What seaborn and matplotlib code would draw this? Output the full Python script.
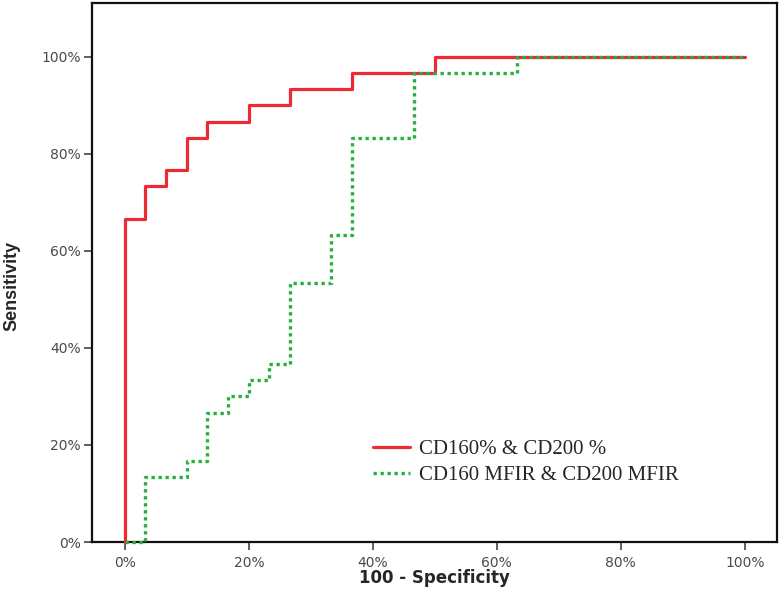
import numpy as np
import pandas as pd
import matplotlib
matplotlib.use("Agg")
import matplotlib.pyplot as plt
import seaborn as sns
from matplotlib.ticker import PercentFormatter

# ROC curves (steps of 1/30)
red_label = "CD160% & CD200 %"
red_fpr = [0, 0, 3.33, 6.67, 10, 13.33, 20, 26.67, 36.67, 50, 100]
red_tpr = [0, 66.67, 73.33, 76.67, 83.33, 86.67, 90, 93.33, 96.67, 100, 100]

green_label = "CD160 MFIR & CD200 MFIR"
green_fpr = [0, 3.33, 10, 13.33, 16.67, 20, 23.33, 26.67, 33.33, 36.67, 46.67, 63.33, 100]
green_tpr = [0, 13.33, 16.67, 26.67, 30, 33.33, 36.67, 53.33, 63.33, 83.33, 96.67, 100, 100]

tick_vals = [0, 20, 40, 60, 80, 100]

df_red = pd.DataFrame({"fpr": red_fpr, "tpr": red_tpr})
df_green = pd.DataFrame({"fpr": green_fpr, "tpr": green_tpr})

sns.set_style("white")
fig = plt.figure(figsize=(7.83, 5.97), dpi=100)
ax = fig.add_axes([92 / 783, 55 / 597, 685 / 783, 539 / 597])

sns.lineplot(data=df_red, x="fpr", y="tpr", ax=ax, sort=False, estimator=None,
             drawstyle="steps-post", color="#ec2a33", linewidth=2.3,
             label=red_label, clip_on=False, zorder=3)
sns.lineplot(data=df_green, x="fpr", y="tpr", ax=ax, sort=False, estimator=None,
             drawstyle="steps-post", color="#25b040", linewidth=2.4,
             linestyle=(0, (1, 1.1)), label=green_label, clip_on=False, zorder=4)

ax.set_xlim(-5.3, 105.2)
ax.set_ylim(0, 111.1)
ax.set_xticks(tick_vals)
ax.set_yticks(tick_vals)
ax.xaxis.set_major_formatter(PercentFormatter(xmax=100, decimals=0))
ax.yaxis.set_major_formatter(PercentFormatter(xmax=100, decimals=0))

for s in ax.spines.values():
    s.set_visible(True)
    s.set_color("#111111")
    s.set_linewidth(1.6)

ax.tick_params(axis="both", direction="out", length=6, width=1.2, color="#444444",
               labelsize=10, labelcolor="#4a4a4a", pad=2, bottom=True, left=True)
ax.tick_params(axis="x", pad=4)
for lab in ax.get_xticklabels() + ax.get_yticklabels():
    lab.set_family("DejaVu Sans")

ax.set_xlabel("100 - Specificity", fontsize=12, fontweight="bold", family="DejaVu Sans")
ax.set_ylabel("Sensitivity", fontsize=13, fontweight="bold", family="Liberation Sans")
ax.xaxis.set_label_coords(0.5, -0.05)
ax.yaxis.set_label_coords(-0.105, 0.475)

leg = ax.legend(loc="upper left", bbox_to_anchor=(0.41, 0.19), frameon=False,
                borderpad=0, borderaxespad=0, handlelength=1.8, handletextpad=0.4,
                labelspacing=0.3, prop={"family": "Liberation Serif", "size": 15})

fig.savefig("out.png", dpi=100)
